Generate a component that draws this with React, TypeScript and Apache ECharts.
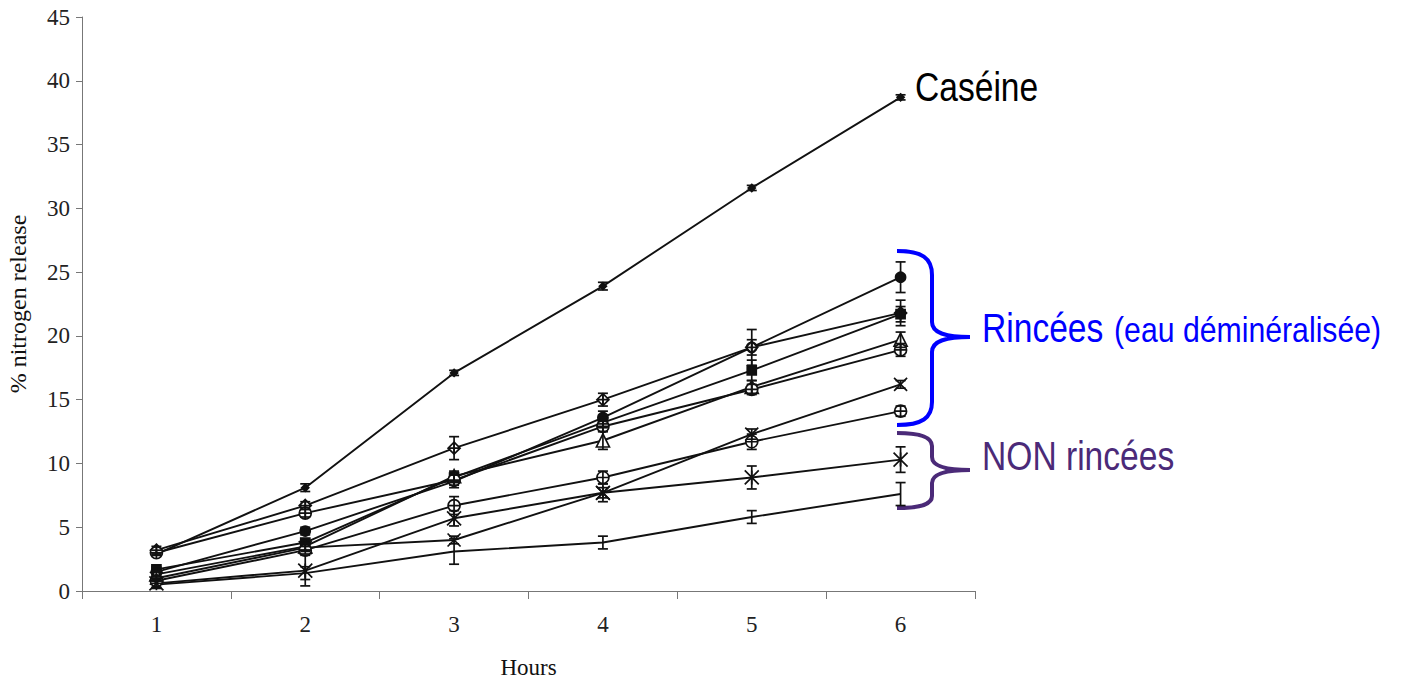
import React, { useEffect, useRef } from "react";
import * as echarts from "echarts";

// ---- data ----
const hours = [1, 2, 3, 4, 5, 6];
const xTickLabels = [1, 2, 3, 4, 5, 6];
const xTickMarks = [0.5, 1.5, 2.5, 3.5, 4.5, 5.5, 6.5];

const caseine = [2.9, 8.1, 17.1, 23.9, 31.6, 38.7];
const caseineErr = [0.1, 0.3, 0.2, 0.3, 0.2, 0.2];

const rinceA = [1.5, 4.7, 8.6, 13.6, 19.1, 24.6];
const rinceAErr = [0.3, 0.3, 0.5, 0.5, 1.4, 1.2];
const rinceB = [3.2, 6.7, 11.2, 15.0, 19.1, 21.8];
const rinceBErr = [0.3, 0.3, 0.9, 0.5, 0.6, 1.0];
const rinceC = [1.7, 3.8, 8.9, 13.2, 17.3, 21.7];
const rinceCErr = [0.2, 0.3, 0.4, 0.4, 0.8, 0.6];
const rinceD = [1.3, 3.5, 9.0, 11.8, 16.0, 19.7];
const rinceDErr = [0.2, 0.3, 0.4, 0.7, 0.5, 0.6];
const rinceE = [3.0, 6.1, 8.7, 12.9, 15.8, 18.9];
const rinceEErr = [0.2, 0.3, 0.4, 0.4, 0.4, 0.5];
const rinceF = [1.0, 3.4, 4.0, 7.7, 12.3, 16.2];
const rinceFErr = [0.2, 0.3, 0.3, 0.4, 0.4, 0.3];
const rinceG = [0.8, 3.2, 6.7, 8.9, 11.7, 14.1];
const rinceGErr = [0.2, 0.3, 0.7, 0.5, 0.6, 0.4];

const nonRinceH = [0.6, 1.6, 5.7, 7.7, 8.9, 10.3];
const nonRinceHErr = [0.3, 1.2, 0.6, 0.7, 0.9, 1.0];
const nonRinceI = [0.5, 1.4, 3.1, 3.8, 5.8, 7.6];
const nonRinceIErr = [0.3, 0.5, 1.0, 0.5, 0.5, 0.9];

// ---- marker shapes ----
const SYM_CROSS = "path://M0,0L10,10M10,0L0,10";
const SYM_CIRCLE_PLUS = "path://M5,0A5,5 0 1 1 5,10A5,5 0 1 1 5,0ZM0,5L10,5M5,0L5,10";
const SYM_THETA = "path://M5,0A5,5 0 1 1 5,10A5,5 0 1 1 5,0ZM0,5L10,5";
const SYM_ASTERISK = "path://M0,0L10,10M10,0L0,10M5,0L5,10";
const SYM_DIAMOND_CROSS = "path://M5,0L10,5L5,10L0,5ZM0,5L10,5M5,0L5,10";
const SYM_TRIANGLE = "path://M5,0L10,9L0,9Z";
const SYM_DASH = "path://M0,5L10,5";

type Spec = { name: string; values: number[]; errs: number[]; symbol: string; size: number; fill: string };

const specs: Spec[] = [
  { name: "Caséine", values: caseine, errs: caseineErr, symbol: "diamond", size: 7, fill: "#111" },
  { name: "A", values: rinceA, errs: rinceAErr, symbol: "circle", size: 10, fill: "#111" },
  { name: "B", values: rinceB, errs: rinceBErr, symbol: SYM_DIAMOND_CROSS, size: 12, fill: "#fff" },
  { name: "C", values: rinceC, errs: rinceCErr, symbol: "rect", size: 9, fill: "#111" },
  { name: "D", values: rinceD, errs: rinceDErr, symbol: SYM_TRIANGLE, size: 13, fill: "#fff" },
  { name: "E", values: rinceE, errs: rinceEErr, symbol: SYM_CIRCLE_PLUS, size: 12, fill: "#fff" },
  { name: "F", values: rinceF, errs: rinceFErr, symbol: SYM_CROSS, size: 13, fill: "none" },
  { name: "G", values: rinceG, errs: rinceGErr, symbol: SYM_THETA, size: 12, fill: "#fff" },
  { name: "H", values: nonRinceH, errs: nonRinceHErr, symbol: SYM_ASTERISK, size: 14, fill: "none" },
  { name: "I", values: nonRinceI, errs: nonRinceIErr, symbol: SYM_DASH, size: 8, fill: "none" },
];

const BRACE_BLUE =
  "M897,251 C922,251 932,258 932,275 L932,322 C932,333 945,337 970,337 C945,337 932,341 932,352 L932,402 C932,418 922,425 897,425";
const BRACE_PURPLE =
  "M897,433 C922,433 932,438 932,446 L932,457 C932,466 945,470 970,470 C945,470 932,474 932,483 L932,496 C932,504 922,508 897,508";

let registered = false;
function registerShapes() {
  if (registered) return;
  registered = true;
  echarts.graphic.registerShape("braceBlue", echarts.graphic.extendPath(BRACE_BLUE, {}));
  echarts.graphic.registerShape("bracePurple", echarts.graphic.extendPath(BRACE_PURPLE, {}));
}

const INK = "#111";

export default function App() {
  const ref = useRef<HTMLDivElement>(null);
  useEffect(() => {
    if (!ref.current) return;
    registerShapes();
    const chart = echarts.init(ref.current, undefined, { renderer: "svg" });

    const lineSeries: any[] = specs.map((s) => ({
      type: "line",
      name: s.name,
      data: hours.map((h, i) => [h, s.values[i]]),
      symbol: s.symbol,
      symbolSize: s.size,
      showSymbol: true,
      lineStyle: { color: INK, width: 1.9 },
      itemStyle: { color: s.fill, borderColor: INK, borderWidth: 1.7 },
      z: 3,
    }));

    const errSeries: any[] = specs.map((s) => ({
      type: "custom",
      name: s.name + " err",
      data: hours.map((h, i) => [h, s.values[i] - s.errs[i], s.values[i] + s.errs[i]]),
      encode: { x: 0, y: [1, 2] },
      z: 4,
      renderItem: (params: any, api: any) => {
        const x = api.value(0);
        const p1 = api.coord([x, api.value(2)]);
        const p2 = api.coord([x, api.value(1)]);
        const w = 5;
        const st = { stroke: INK, lineWidth: 1.7 };
        return {
          type: "group",
          children: [
            { type: "line", shape: { x1: p1[0], y1: p1[1], x2: p2[0], y2: p2[1] }, style: st },
            { type: "line", shape: { x1: p1[0] - w, y1: p1[1], x2: p1[0] + w, y2: p1[1] }, style: st },
            { type: "line", shape: { x1: p2[0] - w, y1: p2[1], x2: p2[0] + w, y2: p2[1] }, style: st },
          ],
        };
      },
    }));

    const serif = '"Liberation Serif", "DejaVu Serif", serif';
    const sans = '"Liberation Sans", Arial, sans-serif';

    chart.setOption({
      animation: false,
      backgroundColor: "#fff",
      grid: { left: 82, top: 17, width: 893, height: 574, containLabel: false, outerBoundsMode: "none" },
      xAxis: {
        type: "value",
        min: 0.5,
        max: 6.5,
        interval: 0.5,
        name: "Hours",
        nameLocation: "middle",
        nameGap: 65,
        nameTextStyle: { fontFamily: serif, fontSize: 23, color: "#111" },
        axisLine: { show: true, lineStyle: { color: "#777", width: 1 } },
        axisTick: { show: true, customValues: xTickMarks, length: 8, lineStyle: { color: "#777" } },
        axisLabel: { customValues: xTickLabels, fontFamily: serif, fontSize: 23, color: "#222", margin: 22 },
        splitLine: { show: false },
      },
      yAxis: {
        type: "value",
        min: 0,
        max: 45,
        interval: 5,
        name: "% nitrogen release",
        nameLocation: "middle",
        nameGap: 52,
        nameTextStyle: { fontFamily: serif, fontSize: 24, color: "#111" },
        axisLine: { show: true, lineStyle: { color: "#777", width: 1 } },
        axisTick: { show: true, length: 6, lineStyle: { color: "#777" } },
        axisLabel: { fontFamily: serif, fontSize: 23, color: "#222", margin: 12 },
        splitLine: { show: false },
      },
      series: [...lineSeries, ...errSeries],
      graphic: [
        {
          type: "text",
          x: 915,
          y: 87,
          scaleX: 0.84,
          style: { text: "Caséine", font: `40px ${sans}`, fill: "#000", verticalAlign: "middle", align: "left" },
        },
        {
          type: "text",
          x: 982,
          y: 328,
          scaleX: 0.84,
          style: { text: "Rincées", font: `40px ${sans}`, fill: "#0000ff", verticalAlign: "middle", align: "left" },
        },
        {
          type: "text",
          x: 1114,
          y: 330,
          scaleX: 0.84,
          style: { text: "(eau déminéralisée)", font: `36px ${sans}`, fill: "#0000ff", verticalAlign: "middle", align: "left" },
        },
        {
          type: "text",
          x: 982,
          y: 456,
          scaleX: 0.84,
          style: { text: "NON rincées", font: `40px ${sans}`, fill: "#4b2a78", verticalAlign: "middle", align: "left" },
        },
        { type: "braceBlue", style: { stroke: "#0000ff", lineWidth: 4, fill: "none" } },
        { type: "bracePurple", style: { stroke: "#4b2a78", lineWidth: 4, fill: "none" } },
      ],
    });

    return () => chart.dispose();
  }, []);

  return (
    <div
      ref={ref}
      style={{ position: "fixed", left: 0, top: 0, width: 1402, height: 681, background: "#fff" }}
    />
  );
}
